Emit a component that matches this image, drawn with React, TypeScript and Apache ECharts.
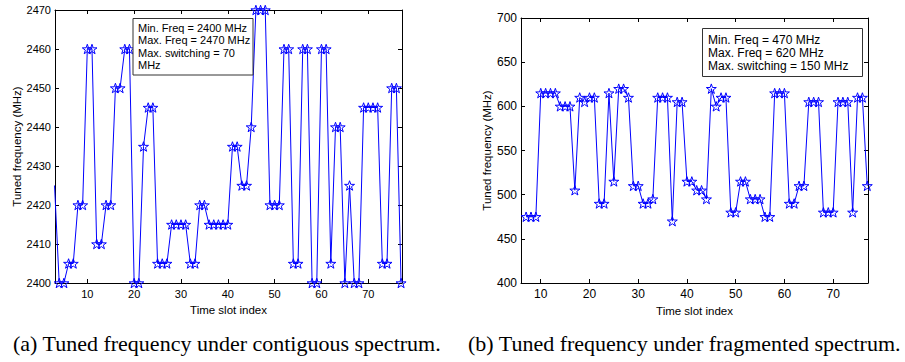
import React, { useEffect, useRef } from "react";
import * as echarts from "echarts";

// ---------- data ----------
const leftSlots = [3, 4, 5, 6, 7, 8, 9, 10, 11, 12, 13, 14, 15, 16, 17, 18, 19, 20, 21, 22, 23, 24, 25, 26, 27, 28, 29, 30, 31, 32, 33, 34, 35, 36, 37, 38, 39, 40, 41, 42, 43, 44, 45, 46, 47, 48, 49, 50, 51, 52, 53, 54, 55, 56, 57, 58, 59, 60, 61, 62, 63, 64, 65, 66, 67, 68, 69, 70, 71, 72, 73, 74, 75, 76, 77];
const leftFreq = [
  2425, 2400, 2400, 2405, 2405, 2420, 2420, 2460, 2460, 2410, 2410, 2420, 2420, 2450, 2450,
  2460, 2460, 2400, 2400, 2435, 2445, 2445, 2405, 2405, 2405, 2415, 2415, 2415, 2415, 2405,
  2405, 2420, 2420, 2415, 2415, 2415, 2415, 2415, 2435, 2435, 2425, 2425, 2440, 2470, 2470,
  2470, 2420, 2420, 2420, 2460, 2460, 2405, 2405, 2460, 2460, 2400, 2400, 2460, 2460, 2405,
  2440, 2440, 2400, 2425, 2400, 2400, 2445, 2445, 2445, 2445, 2405, 2405, 2450, 2450, 2400,
];
const rightSlots = [7, 8, 9, 10, 11, 12, 13, 14, 15, 16, 17, 18, 19, 20, 21, 22, 23, 24, 25, 26, 27, 28, 29, 30, 31, 32, 33, 34, 35, 36, 37, 38, 39, 40, 41, 42, 43, 44, 45, 46, 47, 48, 49, 50, 51, 52, 53, 54, 55, 56, 57, 58, 59, 60, 61, 62, 63, 64, 65, 66, 67, 68, 69, 70, 71, 72, 73, 74, 75, 76, 77];
const rightFreq = [
  475, 475, 475, 615, 615, 615, 615, 600, 600, 600, 505, 610, 605, 610, 610,
  490, 490, 615, 515, 620, 620, 610, 510, 510, 490, 490, 495, 610, 610, 610,
  470, 605, 605, 515, 515, 505, 505, 495, 620, 600, 610, 610, 480, 480, 515,
  515, 495, 495, 495, 475, 475, 615, 615, 615, 490, 490, 510, 510, 605, 605,
  605, 480, 480, 480, 605, 605, 605, 480, 610, 610, 510,
];
const xTickValues = [10, 20, 30, 40, 50, 60, 70];
const leftInfo = ["Min. Freq = 2400 MHz", "Max. Freq = 2470 MHz", "Max. switching = 70", "MHz"];
const rightInfo = ["Min. Freq = 470 MHz", "Max. Freq = 620 MHz", "Max. switching = 150 MHz"];
const captionA = "(a) Tuned frequency under contiguous spectrum.";
const captionB = "(b) Tuned frequency under fragmented spectrum.";
const xTitle = "Time slot index";
const yTitle = "Tuned frequency (MHz)";

// ---------- styling ----------
const SANS = "Liberation Sans";
const SERIF = "Liberation Serif";
const BLUE = "#0000ff";

function starPath(): string {
  const pts: string[] = [];
  for (let k = 0; k < 10; k++) {
    const a = -Math.PI / 2 + (k * Math.PI) / 5;
    const r = k % 2 === 0 ? 50 : 19.5;
    const x = 50 + r * Math.cos(a);
    const y = 50 + r * Math.sin(a);
    pts.push((k === 0 ? "M" : "L") + x.toFixed(2) + " " + y.toFixed(2));
  }
  return "path://" + pts.join(" ") + " Z";
}
const STAR = starPath();

function pairs(xs: number[], ys: number[]) {
  return xs.map((x, i) => [x, ys[i]]);
}

export default function App() {
  const ref = useRef<HTMLDivElement>(null);

  useEffect(() => {
    if (!ref.current) return;
    const chart = echarts.init(ref.current, undefined, { renderer: "svg" });

    const plain = (v: number) => String(v);

    const mkX = (grid: number, min: number, max: number, fs: number, main: boolean) => ({
      type: "value",
      gridIndex: grid,
      position: main ? "bottom" : "top",
      min,
      max,
      name: main ? xTitle : "",
      nameLocation: "middle",
      nameGap: 18,
      nameTextStyle: { fontFamily: SANS, fontSize: 11.5, color: "#000" },
      axisLine: { show: true, onZero: false, lineStyle: { color: "#000", width: 1 } },
      axisTick: { show: true, inside: true, length: 4, customValues: xTickValues, lineStyle: { color: "#000" } },
      axisLabel: { show: main, customValues: xTickValues, formatter: plain, fontFamily: SANS, fontSize: fs, color: "#000", margin: 5 },
      splitLine: { show: false },
    });
    const mkY = (grid: number, min: number, max: number, interval: number, fs: number, main: boolean, gap: number) => ({
      type: "value",
      gridIndex: grid,
      position: main ? "left" : "right",
      min,
      max,
      interval,
      name: main ? yTitle : "",
      nameLocation: "middle",
      nameGap: gap,
      nameTextStyle: { fontFamily: SANS, fontSize: 11.5, color: "#000" },
      axisLine: { show: true, onZero: false, lineStyle: { color: "#000", width: 1 } },
      axisTick: { show: true, inside: true, length: 4, lineStyle: { color: "#000" } },
      axisLabel: { show: main, formatter: plain, fontFamily: SANS, fontSize: fs, color: "#000", margin: 4 },
      splitLine: { show: false },
    });

    const seriesStyle = {
      type: "line",
      symbol: STAR,
      symbolSize: 10,
      symbolKeepAspect: true,
      showAllSymbol: true,
      clip: true,
      lineStyle: { color: BLUE, width: 1 },
      itemStyle: { color: "rgba(0,0,255,0)", borderColor: BLUE, borderWidth: 1 },
      emphasis: { disabled: true },
    };

    const boxText = (lines: string[], x: number, y0: number, lh: number, fs: number) =>
      lines.map((t, i) => ({
        type: "text",
        x,
        y: y0 + i * lh,
        z: 101,
        style: { text: t, fontFamily: SANS, fontSize: fs, fill: "#000", verticalAlign: "middle" },
      }));

    chart.setOption({
      animation: false,
      backgroundColor: "#fff",
      grid: [
        { left: 55, top: 10, width: 347, height: 273, containLabel: false },
        { left: 521, top: 18, width: 347, height: 265, containLabel: false },
      ],
      xAxis: [
        mkX(0, 3.1, 77.2, 11, true),
        mkX(0, 3.1, 77.2, 11, false),
        mkX(1, 5.95, 77.15, 12, true),
        mkX(1, 5.95, 77.15, 12, false),
      ],
      yAxis: [
        mkY(0, 2400, 2470, 10, 11, true, 28),
        mkY(0, 2400, 2470, 10, 11, false, 0),
        mkY(1, 400, 700, 50, 12, true, 24),
        mkY(1, 400, 700, 50, 12, false, 0),
      ],
      series: [
        { ...seriesStyle, name: "contiguous", xAxisIndex: 0, yAxisIndex: 0, data: pairs(leftSlots, leftFreq) },
        { ...seriesStyle, name: "fragmented", xAxisIndex: 2, yAxisIndex: 2, data: pairs(rightSlots, rightFreq) },
      ],
      graphic: [
        {
          type: "rect",
          z: 100,
          shape: { x: 133, y: 18.5, width: 120, height: 56.5 },
          style: { fill: "#fff", stroke: "#333", lineWidth: 1 },
        },
        ...boxText(leftInfo, 138, 27.5, 12.6, 11),
        {
          type: "rect",
          z: 100,
          shape: { x: 702.5, y: 28.5, width: 160, height: 48 },
          style: { fill: "#fff", stroke: "#333", lineWidth: 1 },
        },
        ...boxText(rightInfo, 708, 39.5, 13.3, 12),
        {
          type: "text",
          x: 13,
          y: 343,
          style: { text: captionA, fontFamily: SERIF, fontSize: 22, fill: "#000", verticalAlign: "middle" },
        },
        {
          type: "text",
          x: 468,
          y: 343,
          style: { text: captionB, fontFamily: SERIF, fontSize: 22, fill: "#000", verticalAlign: "middle" },
        },
      ],
    });

    return () => chart.dispose();
  }, []);

  return (
    <div
      ref={ref}
      style={{ position: "fixed", left: 0, top: 0, width: 905, height: 362, background: "#fff" }}
    />
  );
}
